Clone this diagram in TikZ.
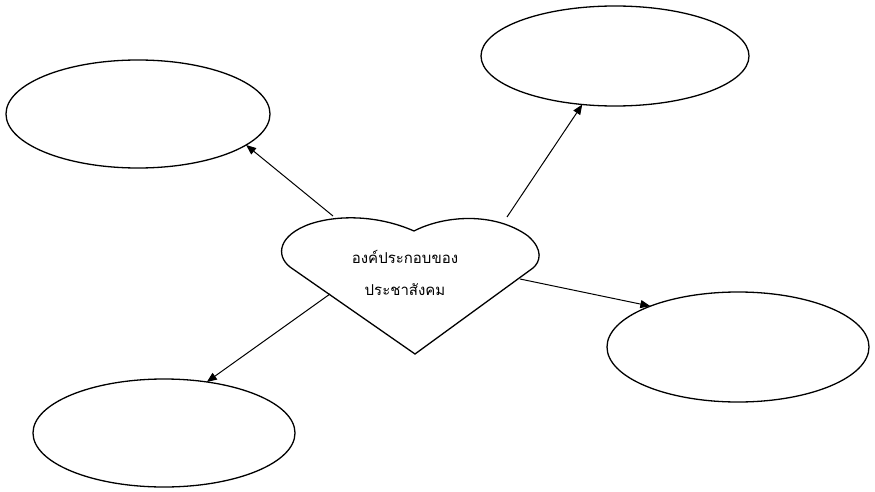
\documentclass[tikz,border=0pt]{standalone}
\usepackage{fontspec}
\newfontfamily\thaifont[Script=Thai]{Loma}
\usetikzlibrary{shapes.geometric,arrows.meta}
\tikzset{
  bubble/.style={draw, ellipse, line width=1.3pt, inner sep=0pt, outer sep=0pt},
  link/.style={line width=1pt, -{Triangle[length=10pt,width=8pt]}},
  heartline/.style={draw, line width=1.3pt, line join=miter},
  caption/.style={font=\thaifont\fontsize{15}{32}\selectfont, align=center, inner sep=0pt}
}
\begin{document}
\begin{tikzpicture}[x=1pt,y=-1pt]
  \useasboundingbox[fill=white] (0,0) rectangle (875,492);

  % outer bubbles
  \node[bubble, minimum width=264pt, minimum height=108pt] (e1) at (138,114) {};
  \node[bubble, minimum width=268pt, minimum height=100pt] (e2) at (615,56) {};
  \node[bubble, minimum width=262pt, minimum height=110pt] (e3) at (738,347) {};
  \node[bubble, minimum width=262pt, minimum height=108pt] (e4) at (164,433) {};

  % central heart
  \path[heartline] (415,354) -- (290,267)
     .. controls (275,255) and (279,235) .. (310,224)
     .. controls (340,214) and (380,216) .. (414,231)
     .. controls (445,215) and (495,212) .. (528,236)
     .. controls (544,250) and (540,262) .. (533,268) -- cycle;
  \node[caption] (topic) at (405,273) {องค์ประกอบของ\\ประชาสังคม};

  % arrow origins on the heart outline
  \coordinate (s1) at (333,216);
  \coordinate (s2) at (507,217);
  \coordinate (s3) at (520,279);
  \coordinate (s4) at (330,294);

  \draw[link] (s1) -- (e1.-16);
  \draw[link] (s2) -- (e2.236);
  \draw[link] (s3) -- (e3.155);
  \draw[link] (s4) -- (e4.50);
\end{tikzpicture}
\end{document}
